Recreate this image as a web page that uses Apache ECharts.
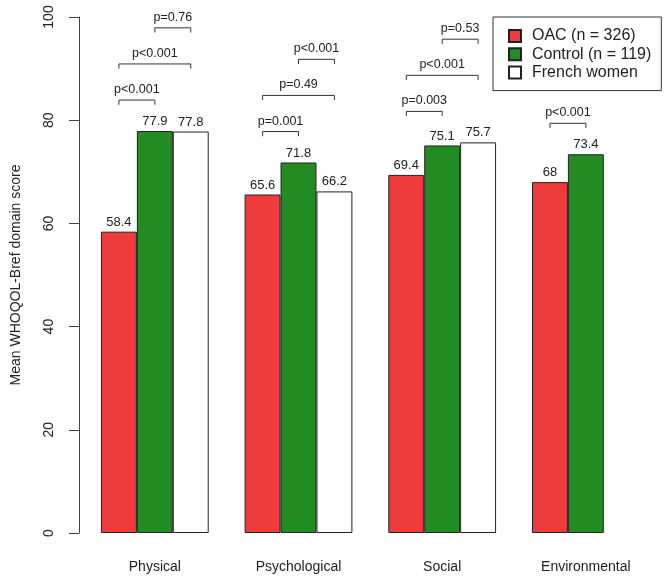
<!DOCTYPE html>
<html>
<head>
<meta charset="utf-8">
<script src="https://cdn.jsdelivr.net/npm/echarts@6/dist/echarts.min.js"></script>
<style>
  html, body { margin: 0; padding: 0; background: #fff; }
  #chart { width: 664px; height: 578px; }
</style>
</head>
<body>
<div id="chart"></div>
<script>
// domains on the x axis
var categories = ['Physical', 'Psychological', 'Social', 'Environmental'];
var seriesNames = ['OAC (n = 326)', 'Control (n = 119)', 'French women'];
var oacValues = [58.4, 65.6, 69.4, 68];
var controlValues = [77.9, 71.8, 75.1, 73.4];
var frenchValues = [77.8, 66.2, 75.7, null];
var yTicks = [0, 20, 40, 60, 80, 100];

// p-value brackets: group index, from bar, to bar (-1 OAC, 0 control, 1 french), height, text
var pGroup = [0, 0, 0, 1, 1, 1, 2, 2, 2, 3];
var pFrom = [-1, -1, 0, -1, -1, 0, -1, -1, 0, -1];
var pTo = [0, 1, 1, 0, 1, 1, 0, 1, 1, 0];
var pLevel = [83.9, 90.9, 97.9, 77.8, 84.8, 91.8, 81.7, 88.7, 95.7, 79.4];
var pText = ['p<0.001', 'p<0.001', 'p=0.76', 'p=0.001', 'p=0.49', 'p<0.001',
             'p=0.003', 'p<0.001', 'p=0.53', 'p<0.001'];

var colors = ['#EE3B3B', '#228B22', '#FFFFFF'];
var font = 'Liberation Sans, Arial, sans-serif';

function barSeries(name, values, color) {
    return {
        name: name,
        type: 'bar',
        data: values,
        barGap: '0%',
        barCategoryGap: '25%',
        itemStyle: { color: color, borderColor: '#222', borderWidth: 1 },
        label: {
            show: true,
            position: 'top',
            distance: 3,
            fontFamily: font,
            fontSize: 13,
            color: '#222',
            formatter: function (p) { return p.value; }
        },
        emphasis: { disabled: true },
        animation: false
    };
}

var bracketData = pGroup.map(function (g, i) {
    return [g, pFrom[i], pTo[i], pLevel[i]];
});

function renderBracket(params, api) {
    var i = params.dataIndex;
    var c = api.coord([api.value(0), api.value(3)]);
    var unit = api.size([1, 0])[0] / 4;
    var x1 = c[0] + api.value(1) * unit;
    var x2 = c[0] + api.value(2) * unit;
    var y = c[1];
    var yEnd = api.coord([api.value(0), api.value(3) - 0.9])[1];
    return {
        type: 'group',
        children: [{
            type: 'polyline',
            shape: { points: [[x1, yEnd], [x1, y], [x2, y], [x2, yEnd]] },
            style: { stroke: '#333', lineWidth: 1, fill: null }
        }, {
            type: 'text',
            style: {
                x: (x1 + x2) / 2,
                y: y - 4,
                text: pText[i],
                align: 'center',
                verticalAlign: 'bottom',
                fontFamily: font,
                fontSize: 12.5,
                fill: '#222'
            }
        }]
    };
}

var chart = echarts.init(document.getElementById('chart'));
chart.setOption({
    backgroundColor: '#fff',
    animation: false,
    grid: { left: 83, right: 6.3, top: 17, bottom: 45, containLabel: false, outerBoundsMode: 'none' },
    legend: {
        data: seriesNames,
        orient: 'vertical',
        left: 493,
        top: 17,
        icon: 'rect',
        itemWidth: 12,
        itemHeight: 12,
        itemGap: 2.3,
        padding: [11, 10, 10, 15],
        borderColor: '#333',
        borderWidth: 1,
        textStyle: { fontFamily: font, fontSize: 16, color: '#222', lineHeight: 16, padding: [0, 0, 0, 6] }
    },
    xAxis: {
        type: 'category',
        data: categories,
        axisLine: { show: false },
        axisTick: { show: false },
        axisLabel: { margin: 27, fontFamily: font, fontSize: 14, color: '#222' }
    },
    yAxis: {
        type: 'value',
        min: yTicks[0],
        max: yTicks[yTicks.length - 1],
        interval: 20,
        offset: 4,
        name: 'Mean WHOQOL-Bref domain score',
        nameLocation: 'middle',
        nameGap: 56,
        nameTextStyle: { fontFamily: font, fontSize: 14, color: '#222' },
        axisLine: { show: true, lineStyle: { color: '#444', width: 1 } },
        axisTick: { show: true, length: 10, lineStyle: { color: '#444' } },
        axisLabel: { rotate: 90, margin: 23, fontFamily: font, fontSize: 14, color: '#222' },
        splitLine: { show: false }
    },
    series: [
        barSeries(seriesNames[0], oacValues, colors[0]),
        barSeries(seriesNames[1], controlValues, colors[1]),
        barSeries(seriesNames[2], frenchValues, colors[2]),
        {
            type: 'custom',
            renderItem: renderBracket,
            data: bracketData,
            encode: { x: 0, y: 3 },
            silent: true,
            z: 5
        }
    ]
});
</script>
</body>
</html>
